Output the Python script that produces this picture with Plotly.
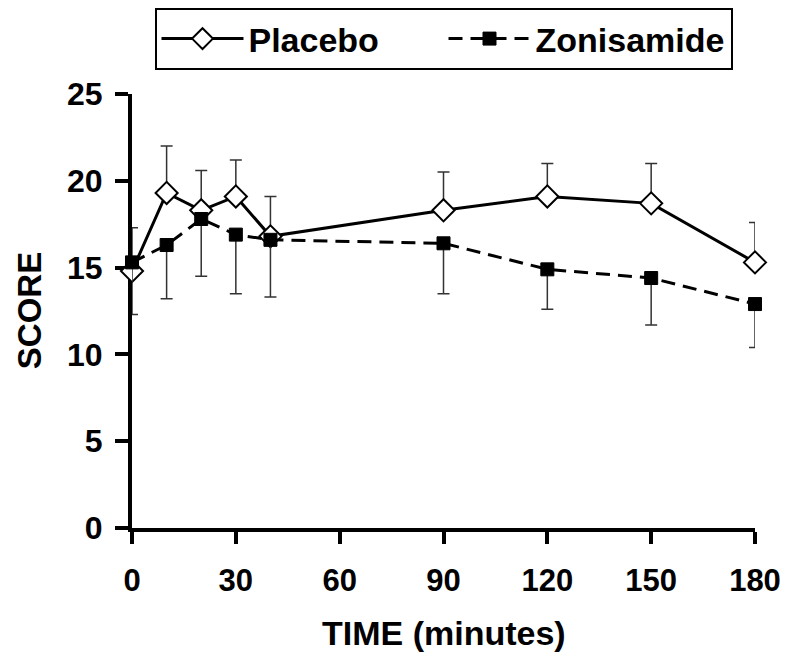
import plotly.graph_objects as go

time_min = [0, 10, 20, 30, 40, 90, 120, 150, 180]
placebo = [14.8, 19.3, 18.3, 19.1, 16.8, 18.3, 19.1, 18.7, 15.3]
placebo_err_plus = [2.5, 2.7, 2.3, 2.1, 2.3, 2.2, 1.9, 2.3, 2.3]
zonisamide = [15.3, 16.3, 17.8, 16.9, 16.6, 16.4, 14.9, 14.4, 12.9]
zonisamide_err_minus = [3.0, 3.1, 3.3, 3.4, 3.3, 2.9, 2.3, 2.7, 2.5]
zeros = [0] * len(time_min)

x_ticks = [0, 30, 60, 90, 120, 150, 180]
y_ticks = [0, 5, 10, 15, 20, 25]

FONT = "Liberation Sans, Arial, sans-serif"

fig = go.Figure()
fig.add_trace(go.Scatter(
    x=time_min, y=placebo, name="Placebo", mode="lines+markers",
    line=dict(color="black", width=3),
    marker=dict(symbol="diamond", size=17, color="white",
                line=dict(color="black", width=2)),
    error_y=dict(type="data", symmetric=False, array=placebo_err_plus,
                 arrayminus=zeros, color="#333333", thickness=1.5, width=6),
    cliponaxis=False,
))
fig.add_trace(go.Scatter(
    x=time_min, y=zonisamide, name="Zonisamide", mode="lines+markers",
    line=dict(color="black", width=3, dash="14px,8px"),
    marker=dict(symbol="square", size=13, color="black",
                line=dict(color="black", width=1)),
    error_y=dict(type="data", symmetric=False, array=zeros,
                 arrayminus=zonisamide_err_minus, color="#333333",
                 thickness=1.5, width=6),
    cliponaxis=False,
))

fig.update_layout(
    width=792, height=653,
    margin=dict(l=124, r=45, t=86, b=133, autoexpand=False),
    plot_bgcolor="white", paper_bgcolor="white",
    font=dict(family=FONT, color="black"),
    showlegend=True,
    legend=dict(
        orientation="h", x=0.5, xanchor="center",
        yref="container", y=1.0, yanchor="top",
        font=dict(family=FONT, size=34, weight="bold", color="black"),
        bordercolor="black", borderwidth=2, bgcolor="white",
        itemwidth=82, entrywidth=190,
    ),
    xaxis=dict(
        range=[0, 180], tickvals=x_ticks, ticktext=[str(v) for v in x_ticks],
        showgrid=False, zeroline=False, automargin=False,
        showline=True, linecolor="black", linewidth=4, layer="below traces",
        ticks="outside", ticklen=12, tickwidth=4, tickcolor="black",
        ticklabelstandoff=10,
        tickfont=dict(family=FONT, size=31, weight="bold"),
    ),
    yaxis=dict(
        range=[0, 25], tickvals=y_ticks, ticktext=[str(v) for v in y_ticks],
        showgrid=False, zeroline=False, automargin=False,
        showline=True, linecolor="black", linewidth=4, layer="below traces",
        ticks="outside", ticklen=13, tickwidth=4, tickcolor="black",
        ticklabelstandoff=6,
        tickfont=dict(family=FONT, size=32, weight="bold"),
    ),
    annotations=[
        dict(text="TIME (minutes)", xref="paper", yref="paper",
             x=0.5, y=-0.242, xanchor="center", yanchor="middle",
             showarrow=False,
             font=dict(family=FONT, size=34, weight="bold", color="black")),
        dict(text="SCORE", xref="paper", yref="paper",
             x=-0.165, y=0.5, xanchor="center", yanchor="middle",
             textangle=-90, showarrow=False,
             font=dict(family=FONT, size=33, weight="bold", color="black")),
    ],
)

fig.write_html("out.html")
